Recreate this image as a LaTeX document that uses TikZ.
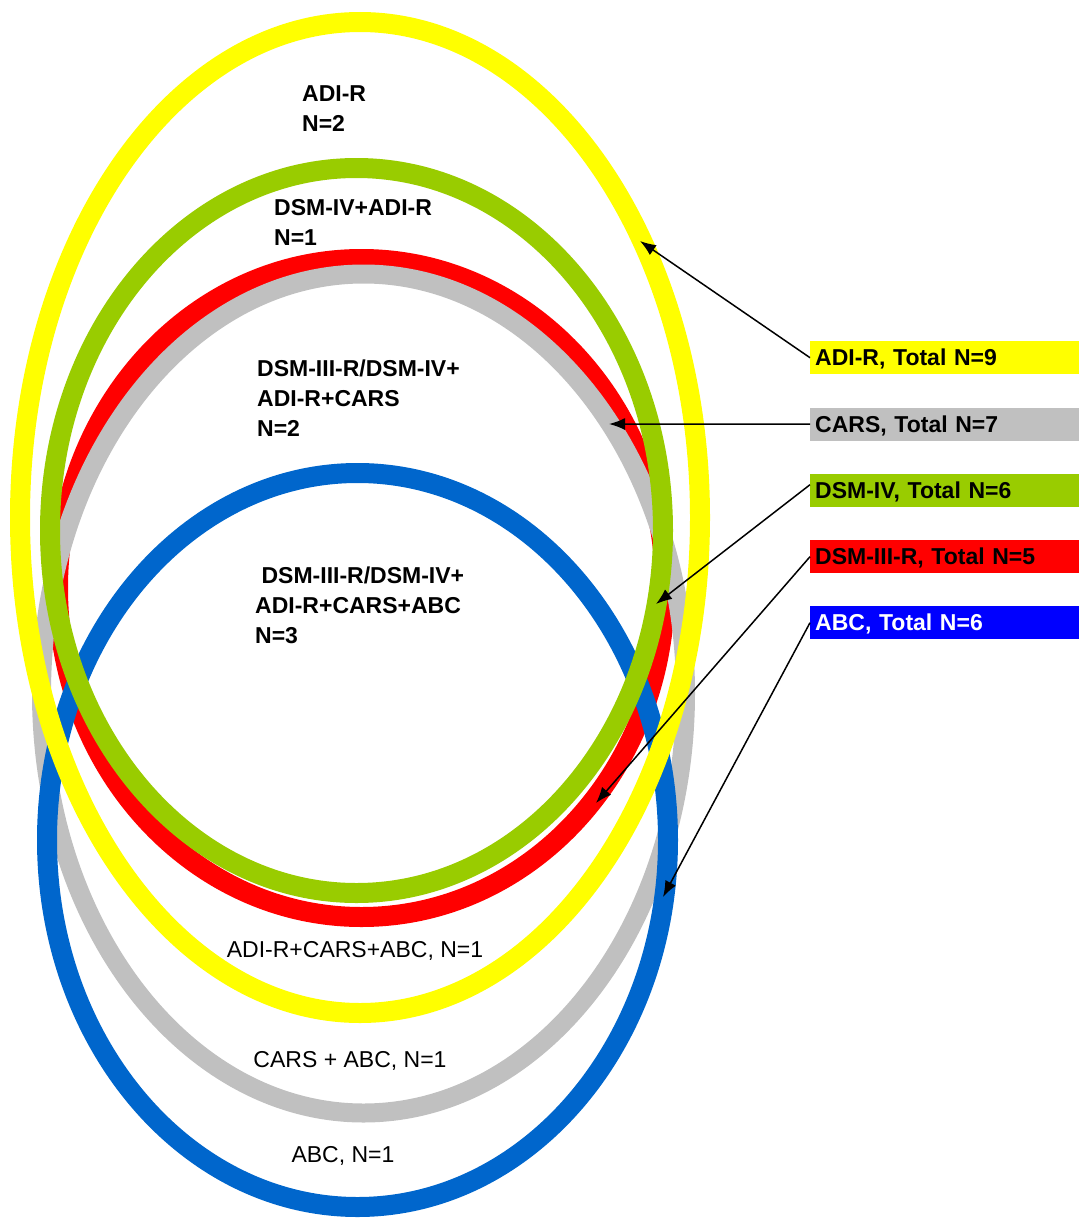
\documentclass[tikz,border=0pt]{standalone}
\usepackage{fontspec}
\setmainfont{Liberation Sans}
\usetikzlibrary{arrows.meta}
\definecolor{adiryellow}{HTML}{FFFF00}
\definecolor{dsmivgreen}{HTML}{99CC00}
\definecolor{dsmiiired}{HTML}{FF0000}
\definecolor{carsgray}{HTML}{C0C0C0}
\definecolor{abcblue}{HTML}{0066CC}
\definecolor{abcboxblue}{HTML}{0000FF}

\begin{document}
\begin{tikzpicture}[x=1pt,y=-1pt,
  ring/.style={line width=20pt},
  keybox/.style={anchor=north west,minimum width=269pt,minimum height=33pt,
    text width=259pt,inner xsep=5pt,inner ysep=0pt,text height=16.5pt,text depth=0pt,
    font=\bfseries\fontsize{23}{30}\selectfont},
  region/.style={anchor=base west,align=left,inner sep=0pt,
    font=\bfseries\fontsize{23}{30}\selectfont},
  plainregion/.style={anchor=base,inner sep=0pt,font=\fontsize{23}{30}\selectfont},
  pointer/.style={-{Latex[length=16pt,width=12pt]},line width=1.5pt}]
\useasboundingbox (0,0) rectangle (1079,1218);

% rings, back to front
\draw[ring,dsmiiired] (361.5,588) ellipse [x radius=303.5pt,y radius=329pt];
\draw[ring,carsgray,line width=19pt] (363.5,693.5) ellipse [x radius=322pt,y radius=419.5pt];
\draw[ring,abcblue] (357.5,840) ellipse [x radius=310.5pt,y radius=367pt];
\draw[ring,adiryellow] (360,517.5) ellipse [x radius=340pt,y radius=495.5pt];
\draw[ring,dsmivgreen] (356.5,530.5) ellipse [x radius=306.5pt,y radius=362.5pt];

% region counts (anchored at the last line)
\node[region] (adironly) at (302,131) {ADI-R\\N=2};
\node[region] (dsmivadir) at (274,245) {DSM-IV+ADI-R\\N=1};
\node[region] (fourway) at (257,436) {DSM-III-R/DSM-IV+\\ADI-R+CARS\\N=2};
\node[region] (fiveway) at (255,643) {\ DSM-III-R/DSM-IV+\\ADI-R+CARS+ABC\\N=3};
\node[plainregion] (adircarsabc) at (355,957) {ADI-R+CARS+ABC, N=1};
\node[plainregion] (carsabc) at (350,1067) {CARS + ABC, N=1};
\node[plainregion] (abconly) at (343,1162) {ABC, N=1};

% key
\node[keybox,fill=adiryellow] (adirkey) at (810,341) {ADI-R, Total N=9};
\node[keybox,fill=carsgray] (carskey) at (810,407.5) {CARS, Total N=7};
\node[keybox,fill=dsmivgreen] (dsmivkey) at (810,474) {DSM-IV, Total N=6};
\node[keybox,fill=dsmiiired] (dsmiiikey) at (810,540) {DSM-III-R, Total N=5};
\node[keybox,fill=abcboxblue,text=white] (abckey) at (810,606) {ABC, Total N=6};

\coordinate (adirtip) at (640,241);
\coordinate (carstip) at (609,424);
\coordinate (dsmivtip) at (656,604);
\coordinate (dsmiiitip) at (596,803);
\coordinate (abctip) at (663,897);

\draw[pointer] (adirkey.west) -- (adirtip);
\draw[pointer] (carskey.west) -- (carstip);
\draw[pointer] ([yshift=6pt]dsmivkey.west) -- (dsmivtip);
\draw[pointer] (dsmiiikey.west) -- (dsmiiitip);
\draw[pointer] (abckey.west) -- (abctip);
\end{tikzpicture}
\end{document}
